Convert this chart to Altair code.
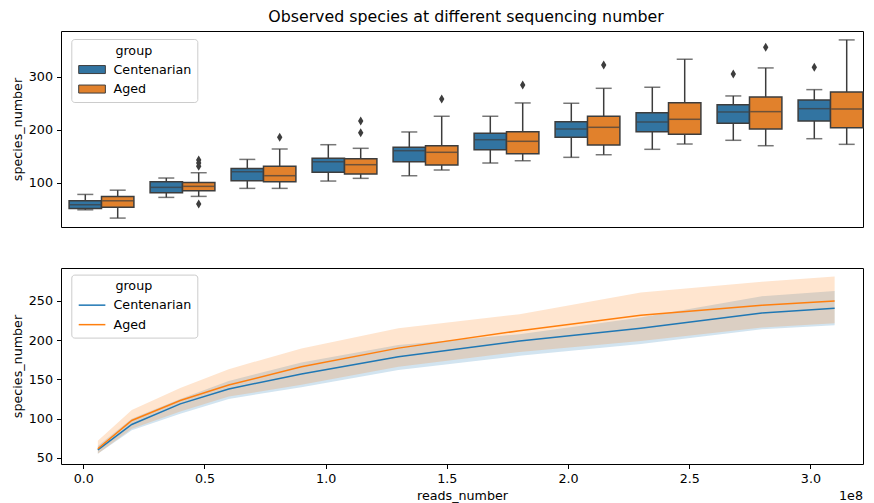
import altair as alt
import pandas as pd

# ---------------- data ----------------
reads = [6e6, 2e7, 4e7, 6e7, 9e7, 1.3e8, 1.8e8, 2.3e8, 2.8e8, 3.1e8]
groups = ["Centenarian", "Aged"]

# box statistics (Centenarian)
lo_c = [49, 72.4, 89.4, 103.2, 113.2, 137.2, 147.9, 163, 180, 183]
q1_c = [51.7, 81, 103.8, 119.6, 139.6, 162.3, 185.6, 196.2, 212, 216.4]
med_c = [58.5, 91.3, 120.8, 139.6, 160.4, 181.1, 201.3, 214.5, 233.4, 239.6]
q3_c = [66, 102, 127, 146, 166.8, 193.2, 215, 232, 247.2, 256]
hi_c = [78, 108.9, 144, 171.7, 195.7, 225.3, 249.8, 280, 263.6, 275.5]

# box statistics (Aged)
lo_a = [33.4, 74.3, 89.4, 108.3, 124, 141.5, 152.8, 173, 169.8, 172.4]
q1_a = [53.6, 85, 101.9, 116.4, 133.4, 154.7, 171.1, 191.3, 201.3, 203.8]
med_a = [66, 93.2, 113.3, 134, 157.4, 178.1, 204.5, 219.6, 234, 239]
q3_a = [74.3, 100.7, 131, 145.3, 169.8, 196.2, 225.3, 251, 261.7, 271.1]
hi_a = [86, 118.9, 163.6, 164.9, 225.3, 250.4, 278, 332.8, 316.4, 369.2]

# outliers
out_reads = [2.8e8, 3.1e8, 2e7, 2e7, 2e7, 2e7, 4e7, 6e7, 6e7, 9e7, 1.3e8, 1.8e8, 2.8e8]
out_group = ["Centenarian", "Centenarian", "Aged", "Aged", "Aged", "Aged", "Aged",
             "Aged", "Aged", "Aged", "Aged", "Aged", "Aged"]
out_value = [305, 317.7, 143, 137, 131, 60, 185.7, 216.4, 194.3, 257.9, 284.3, 322, 355.5]

# mean curves and 95% CI bands
mean_c = [60, 92.4, 118.7, 137.7, 156.8, 178.8, 199, 215.3, 234.7, 240.7]
mean_a = [61.5, 97.5, 122.9, 142.8, 166, 189.8, 212, 231.8, 244.5, 250]
ci_lo_c = [55, 85, 106, 125, 140, 162, 180, 195, 214, 219]
ci_hi_c = [65, 99.6, 125, 148, 171.6, 193.7, 207.6, 228.8, 256, 262.7]
ci_lo_a = [55, 87, 109, 128, 143, 166, 185, 199, 216, 221.6]
ci_hi_a = [71.5, 111, 139, 163, 189.4, 215.3, 233, 260.6, 274.6, 281]

# ---------------- tables ----------------
box_df = pd.DataFrame({
    "reads": reads * 2,
    "group": ["Centenarian"] * len(reads) + ["Aged"] * len(reads),
    "lo": lo_c + lo_a, "q1": q1_c + q1_a, "med": med_c + med_a,
    "q3": q3_c + q3_a, "hi": hi_c + hi_a,
})
out_df = pd.DataFrame({"reads": out_reads, "group": out_group, "value": out_value})
line_df = pd.DataFrame({
    "reads": reads * 2,
    "group": ["Centenarian"] * len(reads) + ["Aged"] * len(reads),
    "mean": mean_c + mean_a,
    "lo": ci_lo_c + ci_lo_a, "hi": ci_hi_c + ci_hi_a,
})

W, H = 802, 196
FS = 12.7
EDGE = "#3d3d3d"
box_colors = ["#3274a1", "#e1812c"]
line_colors = ["#1f77b4", "#ff7f0e"]


def make_legend(symbol, dy, stroke_w, stroke_color=None):
    kw = dict(
        title="group", orient="none", legendX=10.3, legendY=dy,
        fillColor="white", strokeColor="#cccccc", cornerRadius=3,
        padding=5.5, titleAnchor="middle", titleFontWeight="normal",
        titleFontSize=FS, labelFontSize=FS, titlePadding=6,
        rowPadding=5.5, labelOffset=24,
        symbolType=symbol, symbolSize=79, symbolStrokeWidth=stroke_w,
        symbolOpacity=1,
    )
    if stroke_color:
        kw["symbolStrokeColor"] = stroke_color
    return alt.Legend(**kw)


# ---------------- top: box plots ----------------
xcat = alt.X("reads:O", sort=reads, axis=None,
             scale=alt.Scale(range=[0, 810], paddingInner=0.2, paddingOuter=0.1))
xoff = alt.XOffset("group:N", sort=groups,
                   scale=alt.Scale(domain=groups, paddingInner=0.0))
ysc_top = alt.Scale(domain=[16.6, 386], nice=False, zero=False)
yaxis_top = alt.Axis(values=[100, 200, 300], title="species_number")

base_top = alt.Chart(box_df)
wlo = base_top.mark_rule(color=EDGE, strokeWidth=1.5).encode(
    x=xcat, xOffset=xoff, y=alt.Y("lo:Q", scale=ysc_top, axis=yaxis_top), y2="q1:Q")
whi = base_top.mark_rule(color=EDGE, strokeWidth=1.5).encode(
    x=xcat, xOffset=xoff, y="q3:Q", y2="hi:Q")
cap_lo = base_top.mark_tick(color=EDGE, thickness=1.5, size=16, orient="horizontal").encode(
    x=xcat, xOffset=xoff, y="lo:Q")
cap_hi = base_top.mark_tick(color=EDGE, thickness=1.5, size=16, orient="horizontal").encode(
    x=xcat, xOffset=xoff, y="hi:Q")
boxes = base_top.mark_bar(stroke=EDGE, strokeWidth=1.5).encode(
    x=xcat, xOffset=xoff, y="q1:Q", y2="q3:Q",
    color=alt.Color("group:N", sort=groups,
                    scale=alt.Scale(domain=groups, range=box_colors),
                    legend=make_legend("M-1,-0.9L5,-0.9L5,0.9L-1,0.9Z", 8, 1, EDGE)))
meds = base_top.mark_tick(color=EDGE, thickness=1.5, size=31, orient="horizontal").encode(
    x=xcat, xOffset=xoff, y="med:Q")
outs = alt.Chart(out_df).mark_point(
    shape="M0,-1L0.6,0L0,1L-0.6,0Z", filled=True, color=EDGE, opacity=1, size=81
).encode(x=xcat, xOffset=xoff, y="value:Q")

top = alt.layer(wlo, whi, cap_lo, cap_hi, boxes, meds, outs).properties(
    width=W, height=H,
    title=alt.TitleParams("Observed species at different sequencing number",
                          fontSize=15.8, fontWeight="normal", anchor="middle",
                          frame="group", offset=5, dx=4, color="black"),
)

# ---------------- bottom: mean curves ----------------
xq = alt.X("reads:Q",
           scale=alt.Scale(domain=[-0.092e8, 3.217e8], nice=False, zero=False),
           axis=alt.Axis(values=[0, 5e7, 1e8, 1.5e8, 2e8, 2.5e8, 3e8],
                         labelExpr="format(datum.value / 1e8, '.1f')",
                         title="reads_number"))
ysc_bot = alt.Scale(domain=[42, 292], nice=False, zero=False)
yaxis_bot = alt.Axis(values=[50, 100, 150, 200, 250], title="species_number")
cscale = alt.Scale(domain=groups, range=line_colors)
line_legend = make_legend("M-1,0L5,0", 6.6, 1.5)

base_bot = alt.Chart(line_df)
band_c = base_bot.mark_area(color=line_colors[0], opacity=0.2).encode(
    x=xq, y=alt.Y("lo:Q", scale=ysc_bot, axis=yaxis_bot), y2="hi:Q"
).transform_filter(alt.datum.group == "Centenarian")
band_a = base_bot.mark_area(color=line_colors[1], opacity=0.2).encode(
    x=xq, y="lo:Q", y2="hi:Q"
).transform_filter(alt.datum.group == "Aged")
lines = base_bot.mark_line(strokeWidth=1.5).encode(
    x=xq, y="mean:Q",
    color=alt.Color("group:N", sort=groups, scale=cscale, legend=line_legend)
)
exp_label = alt.Chart(pd.DataFrame({"t": ["1e8"]})).mark_text(
    align="right", baseline="middle", fontSize=FS, color="black"
).encode(text="t:N", x=alt.value(W), y=alt.value(227.5))

bottom = alt.layer(band_c, band_a, lines, exp_label).properties(width=W, height=H)

chart = alt.vconcat(top, bottom, spacing=39).resolve_scale(
    color="independent", x="independent", y="independent"
).properties(
    padding={"left": 2, "top": 0, "right": 0, "bottom": 0},
).configure(
    font="DejaVu Sans",
).configure_view(
    stroke="black", strokeWidth=1,
).configure_axis(
    labelFontSize=FS, titleFontSize=FS, titleFontWeight="normal",
    labelColor="black", titleColor="black", tickColor="black",
    tickSize=4.5, tickWidth=1, labelPadding=4, titlePadding=4,
    domain=False, grid=False,
)

chart.save("out.html", embed_options={"renderer": "svg", "actions": False})
